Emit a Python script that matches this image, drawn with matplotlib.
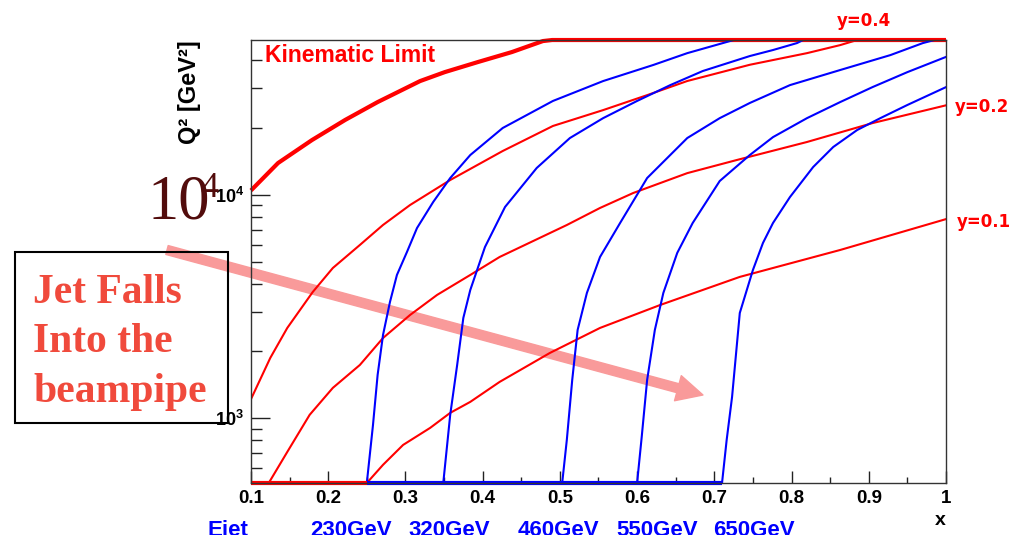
import math
import matplotlib
matplotlib.use('Agg')
import matplotlib.pyplot as plt
from matplotlib.patches import Rectangle
from matplotlib.ticker import FixedLocator, FuncFormatter, NullFormatter

plt.rcParams['font.family'] = ['Liberation Sans', 'DejaVu Sans']
plt.rcParams['mathtext.fontset'] = 'custom'
plt.rcParams['mathtext.bf'] = 'Liberation Sans:bold'
plt.rcParams['mathtext.rm'] = 'Liberation Sans'

# axis range of the (x, Q^2) plane
Q2_MIN, Q2_MAX = 514, 49400

# kinematic limit (y = 1), runs along the top once it leaves the plot
kin_x = [0.100, 0.135, 0.179, 0.222, 0.264, 0.319, 0.351, 0.394, 0.438, 0.478, 0.490, 1.000]
kin_q2 = [10480, 13900, 17620, 21680, 26060, 32360, 35490, 39380, 43650, 48870, 49400, 49400]

# lines of constant inelasticity y
y04_x = [0.100, 0.125, 0.147, 0.180, 0.206, 0.241, 0.271, 0.306, 0.358, 0.426, 0.491,
         0.556, 0.613, 0.665, 0.746, 0.820, 0.863, 0.885]
y04_q2 = [1220, 1866, 2541, 3681, 4713, 5975, 7345, 9020, 11670, 15740, 20370,
          23990, 27990, 32380, 38280, 43150, 46880, 49400]

y02_x = [0.123, 0.147, 0.176, 0.206, 0.241, 0.271, 0.306, 0.341, 0.384, 0.422, 0.509,
         0.552, 0.595, 0.665, 0.729, 0.820, 0.905, 1.000]
y02_q2 = [514, 708, 1038, 1370, 1735, 2291, 2904, 3571, 4387, 5280, 7340,
          8750, 10210, 12530, 14340, 17270, 20990, 25200]

y01_x = [0.250, 0.271, 0.297, 0.332, 0.358, 0.384, 0.422, 0.487, 0.552, 0.630, 0.733, 0.863, 1.000]
y01_q2 = [514, 620, 761, 907, 1059, 1186, 1457, 1963, 2541, 3220, 4300, 5675, 7800]

# lines of constant jet energy
jet_labels = ['230GeV', '320GeV', '460GeV', '550GeV', '650GeV']

e230_x = [0.250, 0.258, 0.264, 0.271, 0.280, 0.289, 0.302, 0.315, 0.336, 0.358, 0.384,
          0.426, 0.491, 0.556, 0.621, 0.665, 0.716, 0.725]
e230_q2 = [514, 935, 1566, 2365, 3322, 4387, 5560, 7115, 9310, 11910, 15100,
           19950, 26360, 32360, 38200, 43150, 48400, 49400]

e320_x = [0.349, 0.358, 0.367, 0.375, 0.384, 0.403, 0.429, 0.470, 0.513, 0.556, 0.600,
          0.643, 0.685, 0.746, 0.776, 0.807, 0.815]
e320_q2 = [514, 1038, 1735, 2818, 3758, 5850, 8840, 13210, 17990, 22080, 26360,
           31040, 35880, 41880, 44560, 47860, 49400]

e460_x = [0.503, 0.509, 0.516, 0.523, 0.535, 0.552, 0.578, 0.613, 0.665, 0.707, 0.746,
          0.798, 0.863, 0.928, 0.970, 0.985]
e460_q2 = [514, 801, 1486, 2489, 3645, 5280, 7495, 11910, 17990, 22080, 25820,
           31040, 36260, 42290, 47860, 49400]

e550_x = [0.600, 0.606, 0.613, 0.623, 0.634, 0.652, 0.672, 0.707, 0.746, 0.776, 0.820,
          0.863, 0.905, 0.950, 1.000]
e550_q2 = [514, 827, 1486, 2489, 3645, 5506, 7495, 11550, 15100, 18160, 22080,
           26060, 30420, 35480, 41500]

e650_x = [0.710, 0.716, 0.723, 0.733, 0.750, 0.763, 0.776, 0.798, 0.828, 0.854, 0.885,
          0.915, 0.950, 1.000]
e650_q2 = [514, 801, 1248, 2965, 4617, 6100, 7495, 9795, 13340, 16400, 19540,
           22080, 25290, 30400]

# jet lost in the beampipe: segments along the lower edge
floor_red_x = [0.10, 0.25]
floor_blue_x = [0.25, 0.71]

x_major = [0.1, 0.2, 0.3, 0.4, 0.5, 0.6, 0.7, 0.8, 0.9, 1.0]
x_minor = [0.15, 0.25, 0.35, 0.45, 0.55, 0.65, 0.75, 0.85, 0.95]
q2_major = [1e3, 1e4]
q2_minor = [600, 700, 800, 900, 2000, 3000, 4000, 5000, 6000, 7000, 8000, 9000,
            20000, 30000, 40000]

RED = '#ff0000'
BLUE = '#0000ff'

fig = plt.figure(figsize=(10.24, 5.35), dpi=100)
ax = fig.add_axes([0.2451, 0.0972, 0.6787, 0.8280])
ax.set_xlim(0.1, 1.0)
ax.set_yscale('log')
ax.set_ylim(Q2_MIN, Q2_MAX)

ax.plot(kin_x, kin_q2, color=RED, lw=3, clip_on=False, solid_capstyle='butt')
for xs, qs in [(y04_x, y04_q2), (y02_x, y02_q2), (y01_x, y01_q2)]:
    ax.plot(xs, qs, color=RED, lw=1.5)
for xs, qs in [(e230_x, e230_q2), (e320_x, e320_q2), (e460_x, e460_q2),
               (e550_x, e550_q2), (e650_x, e650_q2)]:
    ax.plot(xs, qs, color=BLUE, lw=1.5)
ax.plot(floor_red_x, [Q2_MIN, Q2_MIN], color=RED, lw=3, clip_on=False, solid_capstyle='butt')
ax.plot(floor_blue_x, [Q2_MIN, Q2_MIN], color=BLUE, lw=3, clip_on=False, solid_capstyle='butt')

# ticks inside, ROOT style
ax.xaxis.set_major_locator(FixedLocator(x_major))
ax.xaxis.set_minor_locator(FixedLocator(x_minor))
ax.xaxis.set_major_formatter(FuncFormatter(lambda v, p: '1' if v > 0.99 else '%.1f' % v))
ax.yaxis.set_major_locator(FixedLocator(q2_major))
ax.yaxis.set_minor_locator(FixedLocator(q2_minor))
ax.yaxis.set_major_formatter(FuncFormatter(
    lambda v, p: r'$\mathbf{10^{%d}}$' % round(math.log10(v))))
ax.yaxis.set_minor_formatter(NullFormatter())
ax.tick_params(which='both', direction='in', top=False, right=False, color='#222222')
ax.tick_params(axis='x', which='major', length=9, width=1, labelsize=13.5, pad=5)
ax.tick_params(axis='x', which='minor', length=4.5, width=1)
ax.tick_params(axis='y', which='major', length=14, width=1, labelsize=13, pad=5)
ax.tick_params(axis='y', which='minor', length=8, width=1)
for lbl in ax.get_xticklabels():
    lbl.set_fontweight('bold')
for sp in ax.spines.values():
    sp.set_linewidth(1)
    sp.set_color('#333333')

ax.text(-0.0878, 1.0, 'Q² [GeV²]', rotation=90, ha='center', va='top',
        fontsize=17, fontweight='bold', transform=ax.transAxes)
ax.text(0.020, 0.964, 'Kinematic Limit', color=RED, fontsize=16.5, fontweight='bold',
        va='center', transform=ax.transAxes)

fig.text(0.8438, 0.9514, 'y=0.4', color=RED, fontsize=12, fontweight='bold',
         family='DejaVu Sans', ha='center', va='baseline')
fig.text(0.9326, 0.7907, 'y=0.2', color=RED, fontsize=12, fontweight='bold',
         family='DejaVu Sans', va='baseline')
fig.text(0.9346, 0.5757, 'y=0.1', color=RED, fontsize=12, fontweight='bold',
         family='DejaVu Sans', va='baseline')

# jet energy row under the x axis (bottom edge of the page cuts it)
fig.text(0.918, 0.028, 'x', fontsize=14, fontweight='bold', ha='center', va='center')
fig.text(0.2031, -0.001, 'Ejet', color=BLUE, fontsize=16, fontweight='bold', va='baseline')
for lbl, left in zip(jet_labels, [0.3027, 0.3984, 0.5059, 0.6016, 0.6963]):
    fig.text(left, -0.001, lbl, color=BLUE, fontsize=16, fontweight='bold', va='baseline')

# overlay: big exponent label, boxed note and arrow
fig.text(0.1445, 0.5907, '10', family='Liberation Serif', fontsize=45,
         color='#520c0c', va='baseline')
fig.text(0.1953, 0.6785, '4', family='Liberation Serif', fontsize=26,
         color='#520c0c', va='top')

fig.add_artist(Rectangle((0.01465, 0.2093), 0.208, 0.3196, transform=fig.transFigure,
                         fill=False, edgecolor='black', lw=1.5))
note_color = '#f04a3c'
for line, base in [('Jet Falls', 0.4336), ('Into the', 0.3421), ('beampipe', 0.2486)]:
    fig.text(0.0322, base, line, family='Liberation Serif', fontsize=30,
             fontweight='bold', color=note_color, va='baseline')

ax.annotate('', xy=(0.6865, 0.2617), xytext=(0.1631, 0.5327),
            xycoords='figure fraction', textcoords='figure fraction',
            arrowprops=dict(arrowstyle='simple,head_length=0.85,head_width=0.85,tail_width=0.3',
                            mutation_scale=22, color='#f99a9a', shrinkA=0, shrinkB=0),
            annotation_clip=False, zorder=1)

fig.savefig('out.png', dpi=100)
